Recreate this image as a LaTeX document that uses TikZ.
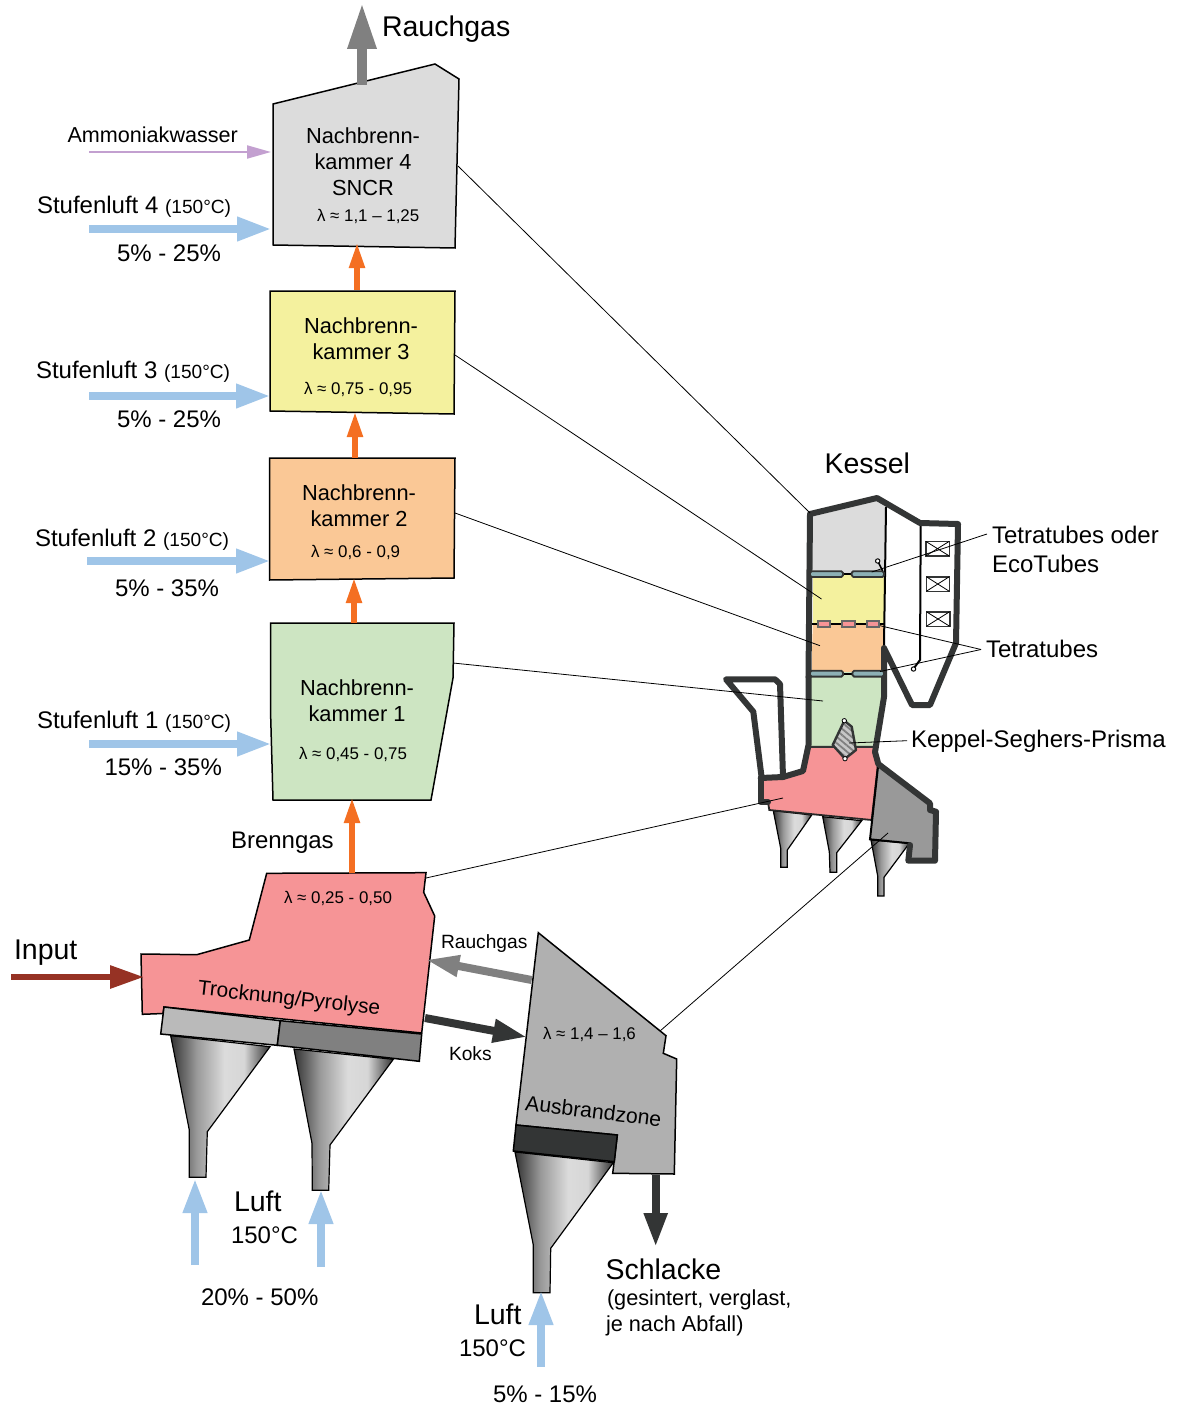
\documentclass[tikz,border=0pt]{standalone}
\usepackage{fontspec}
\setmainfont{Liberation Sans}
\usetikzlibrary{arrows.meta,patterns.meta}
\definecolor{cgray}{HTML}{DCDCDC}
\definecolor{cyellow}{HTML}{F4F19E}
\definecolor{corange}{HTML}{FAC896}
\definecolor{cgreen}{HTML}{CDE5C2}
\definecolor{cpink}{HTML}{F69496}
\definecolor{cash}{HTML}{B0B0B0}
\definecolor{cblue}{HTML}{9FC5E8}
\definecolor{cfire}{HTML}{F46F22}
\definecolor{csmoke}{HTML}{808080}
\definecolor{cdark}{HTML}{333535}
\definecolor{cviolet}{HTML}{C3A0D0}
\definecolor{cinput}{HTML}{963224}
\definecolor{ctube}{HTML}{8CB0B5}
\pgfdeclarehorizontalshading{funnelshade}{100bp}{color(0bp)=(black!80); color(25bp)=(black!80); color(38bp)=(black!40); color(52bp)=(black!14); color(62bp)=(black!16); color(75bp)=(black!80); color(100bp)=(black!80)}
\tikzset{
  chamber/.style={draw=black,line width=0.75pt,line join=miter},
  funnel/.style={draw=black,line width=0.6pt,shading=funnelshade},
  wall/.style={draw=cdark,line width=3pt,line join=round,line cap=round},
  leader/.style={draw=black,line width=0.4pt},
  thinwall/.style={draw=black,line width=1pt},
  tubebar/.style={draw=cdark,fill=ctube,line width=0.9pt,rounded corners=0.8pt},
  tubered/.style={draw=black!60,fill=cpink,line width=1pt},
  lbl/.style={inner sep=0pt,outer sep=0pt,anchor=base west},
  ctr/.style={inner sep=0pt,outer sep=0pt,align=center,anchor=center},
  xxl/.style={font=\fontsize{14.25}{16}\selectfont},
  big/.style={font=\fontsize{12}{14.5}\selectfont},
  cham/.style={font=\fontsize{10.9}{13}\selectfont},
  lam/.style={font=\fontsize{8.45}{10}\selectfont},
  sm/.style={font=\fontsize{9.6}{12}\selectfont},
  barrow/.style n args={4}{draw=#1,line width=#2,shorten >=-1pt,-{Triangle[length=#3,width=#4,fill=#1]}},
  bluearrow/.style={barrow={cblue}{3.6pt}{17pt}{11.5pt}},
  firearrow/.style={barrow={cfire}{2.6pt}{12.5pt}{7.5pt}},
  grayarrow/.style={barrow={csmoke}{4pt}{17pt}{10pt}},
  darkarrow/.style={barrow={cdark}{4pt}{17pt}{11pt}},
}
\newcommand{\smalltemp}{{\fontsize{9.55}{12}\selectfont (150°C)}}
\begin{document}
\begin{tikzpicture}[x=0.5pt,y=-0.5pt]
\useasboundingbox (0,0) rectangle (1177,1407);

% ---- chambers ----
\draw[chamber,fill=cgray] (273,104) -- (435,64) -- (459,79) -- (455,248) -- (273,245) -- cycle;
\draw[chamber,fill=cyellow] (270,291) -- (455,291) -- (454,414) -- (270,411) -- cycle;
\draw[chamber,fill=corange] (269.5,458) -- (455,458) -- (454,578) -- (269.5,580) -- cycle;
\draw[chamber,fill=cgreen] (270.5,623) -- (454,623) -- (453,678) -- (431,800) -- (273,800) -- (270.5,710) -- cycle;

% ---- funnels of the lower section ----
\shadedraw[funnel] (170.7,1035.7) -- (270,1046.7) -- (207.3,1131.7) -- (206,1177.3) -- (189.3,1177.3) -- (189.3,1130) -- cycle;
\shadedraw[funnel] (294,1049) -- (393.3,1059.3) -- (330,1145) -- (328.7,1190.3) -- (312.3,1190.3) -- (312,1143.3) -- cycle;
\shadedraw[funnel] (515,1152) -- (613.3,1162.7) -- (550.7,1248.3) -- (550,1292.7) -- (533.3,1292.7) -- (533.3,1245) -- cycle;

% ---- pyrolysis and burnout zone ----
\draw[chamber,fill=cpink] (266.7,873.3) -- (426,872.7) -- (423.7,892.3) -- (434.7,916) -- (421.7,1033) -- (164,1007) -- (163,1013.5) -- (142.3,1014.3) -- (141,954) -- (196.7,954.7) -- (249.3,940) -- cycle;
\draw[chamber,fill=black!27] (164,1007) -- (280.3,1020.7) -- (277.3,1045.3) -- (160.7,1034) -- cycle;
\draw[chamber,fill=csmoke] (280.3,1020.7) -- (421.7,1034) -- (419.3,1061.3) -- (277.3,1045.3) -- cycle;
\draw[chamber,fill=cash] (538.3,932.7) -- (666,1035.7) -- (663.3,1053.3) -- (676.7,1059) -- (674.3,1174) -- (612.7,1173.3) -- (617.3,1135) -- (516,1125) -- cycle;
\draw[chamber,fill=cdark] (516,1125) -- (617.3,1135) -- (614.3,1161.7) -- (513.3,1151) -- cycle;

% ---- boiler: funnels ----
\shadedraw[funnel] (773.3,810.7) -- (811.7,815) -- (787.3,850) -- (787.3,867.3) -- (780.7,867.3) -- (780.7,848.3) -- cycle;
\shadedraw[funnel] (822.7,816.7) -- (861.7,820.7) -- (836.7,852.7) -- (836.7,872.3) -- (830,872.3) -- (829.3,851.7) -- cycle;
\shadedraw[funnel] (871,840) -- (909.3,843.3) -- (884,877.3) -- (884,896) -- (877.7,896) -- (877.7,876) -- cycle;

% ---- boiler: zones ----
\fill[cgray] (811.7,516.7) -- (876.7,500.7) -- (886,506.7) -- (884,575) -- (812.7,575) -- cycle;
\fill[cyellow] (812.7,575) -- (884,575) -- (884,624) -- (812.7,624) -- cycle;
\fill[corange] (812.7,624) -- (884,624) -- (883,672) -- (811.7,672) -- cycle;
\fill[cgreen] (810,672) -- (886,672) -- (885,700) -- (874,746.7) -- (810,746.7) -- cycle;
\draw[chamber,line width=0.9pt,draw=black!85,fill=cpink] (810,746.7) -- (874,746.7) -- (878,764) -- (871.7,820) -- (769.3,810) -- (768,802) -- (760.7,802.3) -- (760.7,778.3) -- (783.3,778.3) -- (803.3,771.7) -- cycle;
\fill[black!40] (878.3,764) -- (930,803.3) -- (930,810) -- (936,811.7) -- (935,860.7) -- (908.3,860.7) -- (910,843.3) -- (870,839.3) -- cycle;
\draw[thinwall] (910,843.3) -- (870,839.3) -- (878.3,764);

% ---- boiler: walls ----
\draw[thinwall] (886,507) -- (884,645);
\draw[thinwall] (920.7,523) -- (920,660) -- (914,668);
\draw[wall] (808.5,677) -- (810,514) -- (877,498) -- (920,523) -- (958,524) -- (956,643) -- (930,705) -- (912,705) -- (884,648) -- (884,697) -- (875,752) -- (878.3,764) -- (930,803.3) -- (930,810) -- (936,811.7) -- (935,860.7) -- (908.3,860.7) -- (910,845);
\draw[wall] (808.5,677) -- (808.5,745) -- (803,771) -- (783,777) -- (760.7,778);
\draw[wall] (760.7,778) -- (760.7,802) -- (768,802);
\draw[wall] (783,777) -- (780,684) -- (775,679.3) -- (726,679.3) -- (753.3,711.7) -- (761.7,778);
\draw[wall,line width=1.2pt] (810,747) -- (874,747);

% ---- boiler: heat exchanger rows ----
\draw[thinwall] (812,624) -- (884,624);
\draw[thinwall] (810,573.5) -- (884,573.5);
\draw[thinwall] (810,673.5) -- (884,673.5);
\draw[tubebar] (810,571.2) rectangle (843,577);
\draw[tubebar] (851.7,571.2) rectangle (884,577);
\draw[tubebar] (810,670.8) rectangle (843,676.6);
\draw[tubebar] (852.5,670.8) rectangle (884,676.6);
\draw[tubered] (817.7,621) rectangle (830,626.6);
\draw[tubered] (842.3,621) rectangle (855,626.6);
\draw[tubered] (866.7,621) rectangle (879.3,626.6);
\draw[thinwall,line width=0.8pt] (877.7,561) -- (882.7,571);
\draw[draw=black,fill=white,line width=0.5pt] (877.7,561) circle (2.2);
\draw[draw=black,fill=white,line width=0.5pt] (913.5,669) circle (2.2);

% ---- boiler: screens ----
\foreach \xa/\ya/\xb/\yb in {925.7/541.3/949.3/556,926.3/576.7/949.3/591.3,926.3/611.7/949.7/626.3}{
  \draw[draw=cdark,line width=0.8pt] (\xa,\ya) rectangle (\xb,\yb);
  \draw[draw=black,line width=0.4pt] (\xa,\ya) -- (\xb,\yb) (\xa,\yb) -- (\xb,\ya);
}

% ---- Keppel-Seghers prism ----
\path[fill=black!22] (844.3,720.7) -- (851.7,726.7) -- (856,750) -- (845,758.7) -- (832.7,745) -- cycle;
\path[pattern={Lines[angle=-40,distance=2.4pt,line width=0.9pt]},pattern color=black!50] (844.3,720.7) -- (851.7,726.7) -- (856,750) -- (845,758.7) -- (832.7,745) -- cycle;
\draw[draw=cdark,line width=1.2pt,line join=round] (844.3,720.7) -- (851.7,726.7) -- (856,750) -- (845,758.7) -- (832.7,745) -- cycle;
\draw[draw=black,fill=white,line width=0.4pt] (844.3,720.7) circle (2.2);
\draw[draw=black,fill=white,line width=0.4pt] (845,758.7) circle (2.2);

% ---- anchors ----
\coordinate (nb4top) at (362,85);  \coordinate (nb4leader) at (458,166);
\coordinate (nb3top) at (357,290); \coordinate (nb4bot) at (357,245);
\coordinate (nb2top) at (355,458); \coordinate (nb3bot) at (355,414);
\coordinate (nb1top) at (354,623); \coordinate (nb2bot) at (354,580);
\coordinate (pytop) at (352,873);  \coordinate (nb1bot) at (352,800);
\coordinate (stack) at (362,5);
\coordinate (s4) at (89,229);  \coordinate (s4e) at (269,229);
\coordinate (s3) at (89,396);  \coordinate (s3e) at (268,396);
\coordinate (s2) at (87,561);  \coordinate (s2e) at (268,561);
\coordinate (s1) at (89,744);  \coordinate (s1e) at (269,744);
\coordinate (am) at (89,152);  \coordinate (ame) at (269,152);
\coordinate (inp) at (11,977); \coordinate (inpe) at (142,977);
\coordinate (l1) at (195,1265); \coordinate (l1e) at (195,1181);
\coordinate (l2) at (321,1267); \coordinate (l2e) at (321,1192);
\coordinate (l3) at (541,1367); \coordinate (l3e) at (541,1293);
\coordinate (ausgas) at (531.7,980); \coordinate (pygas) at (427.3,960);
\coordinate (pykoks) at (425,1018);  \coordinate (auskoks) at (525,1036.7);
\coordinate (ausout) at (655.7,1175); \coordinate (slag) at (655.7,1245);
\coordinate (b4) at (810,513);   \coordinate (b3) at (821.5,599);
\coordinate (b2) at (820,645.7); \coordinate (b1) at (823,701);
\coordinate (bp) at (783,798);   \coordinate (ba) at (888,833);
\coordinate (nb3leader) at (455,355); \coordinate (nb2leader) at (455,513);
\coordinate (nb1leader) at (453,663); \coordinate (pyleader) at (426,878);
\coordinate (ausleader) at (660,1031);
\coordinate (prism) at (849,743);
\coordinate (tta) at (871.7,572); \coordinate (ttb) at (880,625.7); \coordinate (ttc) at (880,671.5);

% ---- leaders ----
\draw[leader] (nb4leader) -- (b4);
\draw[leader] (nb3leader) -- (b3);
\draw[leader] (nb2leader) -- (b2);
\draw[leader] (nb1leader) -- (b1);
\draw[leader] (pyleader) -- (bp);
\draw[leader] (ausleader) -- (ba);

% ---- arrows ----
\draw[barrow={csmoke}{4.6pt}{23pt}{13.5pt}] (nb4top) -- (stack);
\draw[firearrow] (nb3top) -- (nb4bot);
\draw[firearrow] (nb2top) -- (nb3bot);
\draw[firearrow] (nb1top) -- (nb2bot);
\draw[firearrow] (pytop) -- (nb1bot);
\draw[bluearrow] (s4) -- (s4e);
\draw[bluearrow] (s3) -- (s3e);
\draw[bluearrow] (s2) -- (s2e);
\draw[bluearrow] (s1) -- (s1e);
\draw[barrow={cviolet}{1pt}{12pt}{6.5pt}] (am) -- (ame);
\draw[barrow={cinput}{3pt}{17pt}{11pt}] (inp) -- (inpe);
\draw[bluearrow] (l1) -- (l1e);
\draw[bluearrow] (l2) -- (l2e);
\draw[bluearrow] (l3) -- (l3e);
\draw[grayarrow] (ausgas) -- (pygas);
\draw[darkarrow] (pykoks) -- (auskoks);
\draw[darkarrow] (ausout) -- (slag);

% ---- labels ----
\node[lbl,xxl] (trauch) at (382,37) {Rauchgas};
\node[lbl,font=\fontsize{10.8}{13}\selectfont] (tam) at (67.5,143) {Ammoniakwasser};
\node[lbl,big] (ts4) at (37,213.5) {Stufenluft 4 \smalltemp};
\node[lbl,big] (ts3) at (36,378) {Stufenluft 3 \smalltemp};
\node[lbl,big] (ts2) at (35,546.5) {Stufenluft 2 \smalltemp};
\node[lbl,big] (ts1) at (37,728) {Stufenluft 1 \smalltemp};
\node[lbl,big] (p4) at (117,262) {5\% - 25\%};
\node[lbl,big] (p3) at (117,427) {5\% - 25\%};
\node[lbl,big] (p2) at (115,596) {5\% - 35\%};
\node[lbl,big] (p1) at (104.5,775.5) {15\% - 35\%};
\node[ctr,cham] (tn4) at (363,162) {Nachbrenn-\\kammer 4\\SNCR};
\node[ctr,cham] (tn3) at (361,339) {Nachbrenn-\\kammer 3};
\node[ctr,cham] (tn2) at (359,506) {Nachbrenn-\\kammer 2};
\node[ctr,cham] (tn1) at (357,701) {Nachbrenn-\\kammer 1};
\node[lbl,lam] (la4) at (317,222) {λ ≈ 1,1 – 1,25};
\node[lbl,lam] (la3) at (304,394) {λ ≈ 0,75 - 0,95};
\node[lbl,lam] (la2) at (311,557) {λ ≈ 0,6 - 0,9};
\node[lbl,lam] (la1) at (299,759) {λ ≈ 0,45 - 0,75};
\node[lbl,lam] (lap) at (284,903) {λ ≈ 0,25 - 0,50};
\node[lbl,lam] (laa) at (543,1039) {λ ≈ 1,4 – 1,6};
\node[lbl,big] (tbg) at (231,848) {Brenngas};
\node[lbl,xxl] (tinp) at (14,959) {Input};
\node[lbl,sm] (trg) at (441,948) {Rauchgas};
\node[lbl,sm] (tko) at (449,1060) {Koks};
\node[inner sep=0pt,rotate=-6.4,font=\fontsize{10.4}{12}\selectfont] (ttp) at (289,999.5) {Trocknung/Pyrolyse};
\node[inner sep=0pt,rotate=-7,font=\fontsize{10.6}{12}\selectfont] (taz) at (593.5,1111) {Ausbrandzone};
\node[lbl,xxl] (tl1) at (234,1211) {Luft};
\node[lbl,big] (tt1) at (231,1243) {150°C};
\node[lbl,big] (tp1) at (201,1305) {20\% - 50\%};
\node[lbl,xxl] (tl2) at (474,1324) {Luft};
\node[lbl,big] (tt2) at (459,1356) {150°C};
\node[lbl,big] (tp2) at (493,1402.5) {5\% - 15\%};
\node[lbl,xxl] (tsch) at (605.5,1279) {Schlacke};
\node[lbl,font=\fontsize{10.85}{13}\selectfont] (tsc1) at (607,1305) {(gesintert, verglast,};
\node[lbl,font=\fontsize{10.85}{13}\selectfont] (tsc2) at (606,1331) {je nach Abfall)};
\node[lbl,xxl] (tke) at (824.5,473) {Kessel};
\node[lbl,big] (ttt1) at (992,543) {Tetratubes oder};
\node[lbl,big] (ttt2) at (992,572) {EcoTubes};
\node[lbl,big] (ttt3) at (986,657.5) {Tetratubes};
\node[lbl,big] (tkp) at (911,747) {Keppel-Seghers-Prisma};

% ---- labels' leaders ----
\coordinate (ttjoin) at (981,649.5);
\draw[leader] (987,534) -- (tta);
\draw[leader] (ttjoin) -- (ttb);
\draw[leader] (ttjoin) -- (ttc);
\draw[leader] (907,740.7) -- (prism);
\end{tikzpicture}
\end{document}
